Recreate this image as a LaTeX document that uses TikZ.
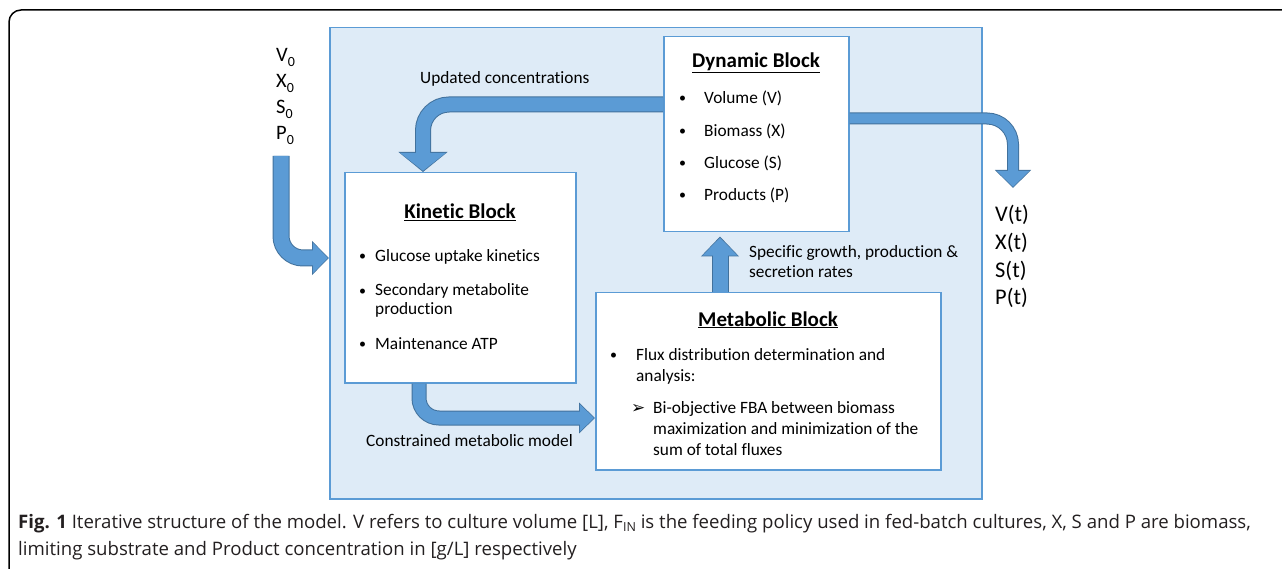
\documentclass[tikz,border=0pt]{standalone}
\usepackage{fontspec}
\setmainfont{Carlito}[Ligatures=NoCommon]
\newfontfamily\capfont{Open Sans}
\newfontfamily\symfont{DejaVu Sans}
\usetikzlibrary{arrows.meta,calc}
\definecolor{panelfill}{HTML}{DEEBF7}
\definecolor{boxline}{HTML}{5B9BD5}
\definecolor{arrowfill}{HTML}{5B9BD5}
\definecolor{arrowline}{HTML}{41719C}
\definecolor{captext}{HTML}{231F20}
\begin{document}
\begin{tikzpicture}[x=1pt,y=-1pt,
  panelbox/.style={draw=boxline, line width=1.5pt, fill=panelfill, inner sep=0pt, anchor=north west},
  blockbox/.style={draw=boxline, line width=1.5pt, fill=white, inner sep=0pt, anchor=north west},
  txt/.style={inner sep=0pt, anchor=base west, font=\fontsize{17.3}{20}\selectfont},
  bul/.style={inner sep=0pt, anchor=base west, font=\fontsize{14}{16}\selectfont},
  ttl/.style={inner sep=0pt, anchor=base, font=\bfseries\fontsize{21}{24}\selectfont},
  iotxt/.style={inner sep=0pt, anchor=base west, font=\fontsize{20.5}{24}\selectfont},
  outtxt/.style={inner sep=0pt, anchor=base west, font=\fontsize{22.4}{26}\selectfont},
  captxt/.style={inner sep=0pt, anchor=base west, text=captext, font=\capfont\fontsize{18.6}{22}\selectfont},
  fatarrow/.style n args={7}{line width=#1, draw=arrowfill, rounded corners=#3,
    shorten >=1.2pt, -{Triangle[length=#4, width=#5]},
    preaction={draw=arrowline, line width=#2, shorten >=0pt, -{Triangle[length=#6, width=#7]}}}
]
\useasboundingbox (0,0) rectangle (1282,569);
\clip (0,0) rectangle (1282,569);
% outer frame
\draw[black, line width=1.5pt, rounded corners=12pt] (9,10) rectangle (1310,600);

% panel and blocks
\node[panelbox, minimum width=652pt, minimum height=471pt] (panel) at (329,27) {};
\node[blockbox, minimum width=185pt, minimum height=195pt] (dyn) at (663,36) {};
\node[blockbox, minimum width=231pt, minimum height=210pt] (kin) at (344,172) {};
\node[blockbox, minimum width=345pt, minimum height=177pt] (met) at (595,292) {};

% connectors
\coordinate (ua) at (423,104.5);
\draw[fatarrow={14pt}{16pt}{26pt}{18pt}{45pt}{20pt}{48pt}] (dyn.west |- ua) -| (ua |- kin.north);
\coordinate (oa) at (1013,118.5);
\coordinate (oe) at (1013,188);
\draw[fatarrow={10pt}{12pt}{26pt}{16pt}{32pt}{18pt}{35pt}] (dyn.east |- oa) -| (oe);
\coordinate (ia) at (281,156);
\coordinate (ib) at (281,258);
\draw[fatarrow={15pt}{17pt}{22pt}{15pt}{30pt}{17pt}{33pt}] (ia) |- (panel.west |- ib);
\coordinate (ka) at (419,418);
\draw[fatarrow={13pt}{15pt}{20pt}{14pt}{27pt}{16pt}{30pt}] (ka |- kin.south) |- (met.west |- ka);
\coordinate (ma) at (720,300);
\coordinate (me) at ($(ma |- dyn.south)+(0,4)$);
\draw[fatarrow={15pt}{17pt}{0pt}{18pt}{34pt}{20pt}{37pt}] (ma |- met.north) -- (me);

% dynamic block text
\node[ttl] (dynt) at (756,68) {\underline{Dynamic Block}};
\node[bul] (db1) at (679,103) {•};
\node[txt] (dt1) at (704,104) {Volume (V)};
\node[bul] (db2) at (679,136) {•};
\node[txt] (dt2) at (704,137) {Biomass (X)};
\node[bul] (db3) at (679,168) {•};
\node[txt] (dt3) at (704,169) {Glucose (S)};
\node[bul] (db4) at (679,200) {•};
\node[txt] (dt4) at (704,201) {Products (P)};

% kinetic block text
\node[ttl] (kint) at (460,219) {\underline{Kinetic Block}};
\node[bul] (kb1) at (359,261) {•};
\node[txt] (kt1) at (375,262) {Glucose uptake kinetics};
\node[bul] (kb2) at (359,295) {•};
\node[txt] (kt2) at (375,296) {Secondary metabolite};
\node[txt] (kt2b) at (375,315) {production};
\node[bul] (kb3) at (359,348) {•};
\node[txt] (kt3) at (375,349) {Maintenance ATP};

% metabolic block text
\node[ttl] (mett) at (768,326) {\underline{Metabolic Block}};
\node[bul] (mb1) at (610,359) {•};
\node[txt] (mt1) at (636,360) {Flux distribution determination and};
\node[txt] (mt1b) at (636,381) {analysis:};
\node[txt, font=\symfont\fontsize{17}{18}\selectfont] (mb2) at (631,413) {➢};
\node[txt] (mt2) at (653,413) {Bi-objective FBA between biomass};
\node[txt] (mt2b) at (653,434) {maximization and minimization of the};
\node[txt] (mt2c) at (653,455) {sum of total fluxes};

% connector labels
\node[txt] (lupd) at (420,84) {Updated concentrations};
\node[txt] (lcon) at (366,446) {Constrained metabolic model};
\node[txt] (lsp1) at (749,258) {Specific growth, production \&};
\node[txt] (lsp2) at (749,278) {secretion rates};

% inputs
\node[iotxt] (v0) at (276,62) {V\raisebox{-5pt}{\fontsize{14}{14}\selectfont 0}};
\node[iotxt] (x0) at (276,88) {X\raisebox{-5pt}{\fontsize{14}{14}\selectfont 0}};
\node[iotxt] (s0) at (276,114) {S\raisebox{-5pt}{\fontsize{14}{14}\selectfont 0}};
\node[iotxt] (p0) at (276,140) {P\raisebox{-5pt}{\fontsize{14}{14}\selectfont 0}};

% outputs
\node[outtxt] (vt) at (995,222) {V(t)};
\node[outtxt] (xt) at (995,250) {X(t)};
\node[outtxt] (st) at (995,278) {S(t)};
\node[outtxt] (pt) at (995,305) {P(t)};

% caption
\node[captxt] (cap1) at (18,528) {\textbf{Fig. 1} Iterative structure of the model. V refers to culture volume [L], F\raisebox{-3pt}{\fontsize{12.5}{12.5}\selectfont IN} is the feeding policy used in fed-batch cultures, X, S and P are biomass,};
\node[captxt] (cap2) at (18,555) {limiting substrate and Product concentration in [g/L] respectively};
\end{tikzpicture}
\end{document}
